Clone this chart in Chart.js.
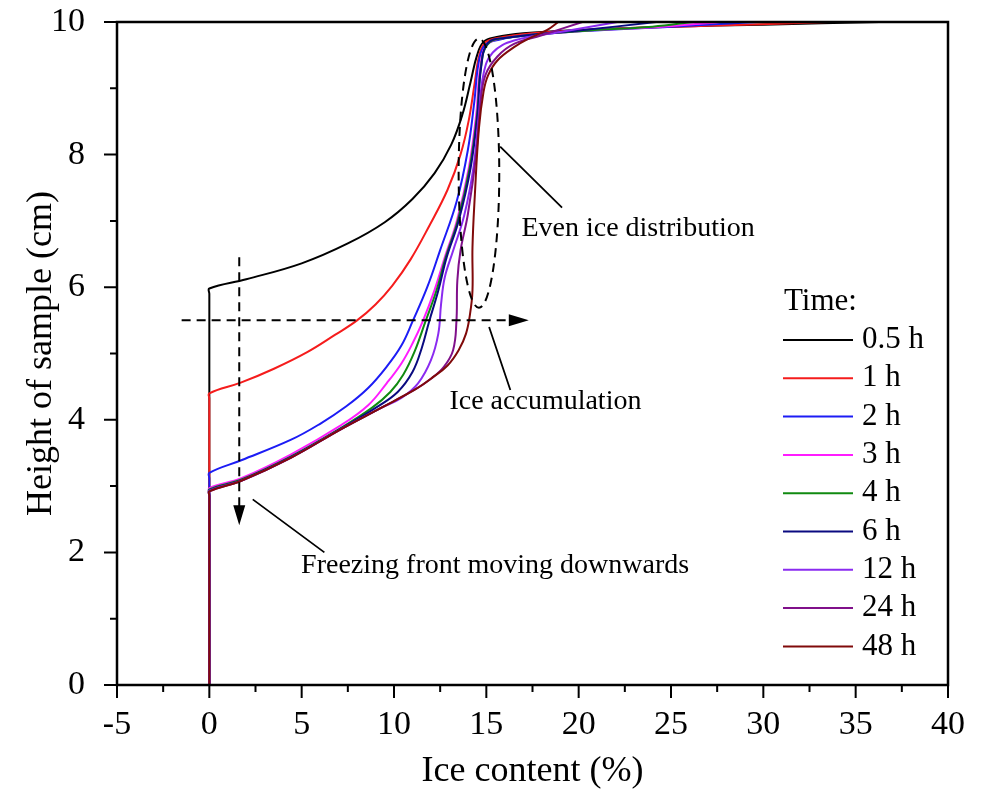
<!DOCTYPE html>
<html>

<head>
  <title>Ice content profiles</title>
  <script src="https://cdn.jsdelivr.net/npm/chart.js"></script>
  <style>
    body { margin: 0; background: #fff; }
  </style>
</head>

<body>
  <canvas id="iceChart" width="982" height="793"></canvas>
  <script>
    // [ice content (%), height of sample (cm)]
    const h05 = [[0, 0], [0, 5.9], [0, 5.98], [2.0, 6.12], [5.0, 6.36], [7.5, 6.66], [9.5, 6.98], [11.0, 7.33], [12.2, 7.72], [13.1, 8.15], [13.7, 8.6], [14.15, 9.1], [14.5, 9.5], [14.85, 9.7], [15.5, 9.77], [17, 9.83], [20, 9.88], [25, 9.93], [30, 9.96], [36.3, 10]];
    const h1 = [[0, 0], [0, 4.32], [0, 4.4], [1.7, 4.56], [3.5, 4.77], [5.3, 5.02], [6.8, 5.28], [8.0, 5.5], [9.0, 5.74], [9.9, 6.02], [10.9, 6.42], [11.9, 6.92], [12.9, 7.47], [13.6, 8.0], [14.05, 8.52], [14.38, 9.1], [14.62, 9.5], [14.98, 9.7], [16.1, 9.78], [18, 9.84], [22, 9.9], [28, 9.95], [33.5, 10]];
    const h2 = [[0, 0], [0, 3.12], [0, 3.2], [1.73, 3.39], [4.43, 3.7], [6.0, 3.94], [7.4, 4.2], [8.6, 4.48], [9.6, 4.8], [10.4, 5.12], [11.0, 5.48], [11.8, 6.0], [12.5, 6.56], [13.4, 7.3], [14.0, 8.07], [14.35, 8.8], [14.58, 9.38], [14.92, 9.65], [15.8, 9.74], [17, 9.79], [20, 9.86], [25, 9.93], [29.7, 10]];
    const h3 = [[0, 0], [0, 2.9], [0, 2.97], [1.73, 3.12], [4.43, 3.48], [7.14, 3.92], [8.6, 4.22], [9.6, 4.55], [10.4, 4.85], [11.0, 5.15], [11.55, 5.48], [12.2, 5.96], [12.75, 6.45], [13.4, 7.0], [14.05, 7.8], [14.45, 8.6], [14.66, 9.3], [15.02, 9.65], [16, 9.76], [20, 9.86], [24, 9.92], [27.7, 10]];
    const h4 = [[0, 0], [0, 2.88], [0, 2.95], [1.73, 3.1], [4.43, 3.45], [7.14, 3.88], [8.8, 4.18], [9.8, 4.42], [10.5, 4.68], [11.1, 5.02], [11.7, 5.48], [12.3, 5.95], [12.8, 6.45], [13.45, 7.0], [14.1, 7.8], [14.5, 8.6], [14.7, 9.3], [15.06, 9.66], [16, 9.76], [20, 9.86], [24, 9.93], [26.2, 10]];
    const h6 = [[0, 0], [0, 2.87], [0, 2.94], [1.73, 3.09], [4.43, 3.44], [7.14, 3.87], [9.0, 4.18], [10.2, 4.42], [11.0, 4.72], [11.5, 5.08], [11.9, 5.48], [12.4, 5.95], [12.85, 6.45], [13.5, 7.0], [14.15, 7.8], [14.52, 8.6], [14.72, 9.32], [15.08, 9.68], [16, 9.76], [20, 9.87], [24.2, 10]];
    const h12 = [[0, 0], [0, 2.86], [0, 2.93], [1.73, 3.08], [4.43, 3.43], [7.14, 3.86], [9.3, 4.18], [10.4, 4.33], [11.3, 4.55], [12.0, 4.9], [12.4, 5.3], [12.55, 5.75], [12.75, 6.15], [13.2, 6.55], [13.8, 7.08], [14.3, 7.8], [14.58, 8.55], [14.85, 9.22], [15.35, 9.54], [16.5, 9.72], [19, 9.85], [22.1, 10]];
    const h24 = [[0, 0], [0, 2.85], [0, 2.92], [1.73, 3.08], [4.43, 3.43], [7.14, 3.86], [9.3, 4.18], [11.1, 4.45], [12.0, 4.62], [12.7, 4.8], [13.2, 5.05], [13.38, 5.48], [13.43, 6.1], [13.6, 6.55], [14.0, 7.1], [14.45, 8.0], [14.68, 8.77], [14.95, 9.2], [15.6, 9.48], [16.5, 9.67], [18, 9.8], [20.2, 10]];
    const h48 = [[0, 0], [0, 2.85], [0, 2.92], [1.73, 3.08], [4.43, 3.43], [7.14, 3.86], [9.3, 4.18], [11.1, 4.45], [12.0, 4.62], [12.9, 4.82], [13.5, 5.05], [13.9, 5.3], [14.12, 5.6], [14.25, 5.95], [14.25, 6.6], [14.38, 7.4], [14.6, 8.4], [14.85, 8.95], [15.1, 9.2], [15.6, 9.42], [16.5, 9.62], [17.3, 9.75], [18.3, 9.88], [18.9, 10]];

    const labels = ['0.5 h', '1 h', '2 h', '3 h', '4 h', '6 h', '12 h', '24 h', '48 h'];
    const colors = ['#000000', '#f51c1c', '#1c1cf5', '#ff1cff', '#108a10', '#0a0a80', '#8a2bf0', '#80108a', '#800a0a'];
    const series = [h05, h1, h2, h3, h4, h6, h12, h24, h48];

    const FONT = '"Liberation Serif", "Times New Roman", serif';
    Chart.defaults.font.family = FONT;
    Chart.defaults.color = '#000';

    // annotations, in data units
    const notes = [
      { text: 'Even ice distribution', x: 16.9, y: 6.89, align: 'left' },
      { text: 'Ice accumulation', x: 18.2, y: 4.27, align: 'center' },
      { text: 'Freezing front moving downwards', x: 4.97, y: 1.8, align: 'left' }
    ];
    const leaders = [[15.75, 8.12, 19.1, 7.2], [15.15, 5.4, 16.3, 4.45], [2.35, 2.8, 6.23, 2.0]];

    const overlay = {
      id: 'overlay',
      afterDraw(chart) {
        const { ctx, chartArea: a, scales: { x, y } } = chart;
        const px = v => x.getPixelForValue(v);
        const py = v => y.getPixelForValue(v);
        ctx.save();
        ctx.strokeStyle = '#000';
        ctx.fillStyle = '#000';

        // frame
        ctx.lineWidth = 2.5;
        ctx.strokeRect(a.left, a.top, a.right - a.left, a.bottom - a.top);

        // ticks, outward, major + minor
        ctx.lineWidth = 2;
        ctx.beginPath();
        x.ticks.forEach(t => {
          const len = Math.abs(t.value % 5) < 1e-6 ? 13 : 7;
          const p = px(t.value);
          ctx.moveTo(p, a.bottom);
          ctx.lineTo(p, a.bottom + len);
        });
        y.ticks.forEach(t => {
          const len = Math.abs(t.value % 2) < 1e-6 ? 13 : 7;
          const p = py(t.value);
          ctx.moveTo(a.left, p);
          ctx.lineTo(a.left - len, p);
        });
        ctx.stroke();

        // dashed arrows
        ctx.lineWidth = 2;
        ctx.setLineDash([9, 6]);
        ctx.beginPath();
        ctx.moveTo(px(-1.5), py(5.5));
        ctx.lineTo(px(17.3) - 18, py(5.5));
        ctx.moveTo(px(1.62), py(6.45));
        ctx.lineTo(px(1.62), py(2.41) - 18);
        ctx.stroke();

        // dashed ellipse round the even zone
        const cx = px(14.6), cy = py(7.72);
        const rx = px(15.7) - px(14.6), ry = py(7.72) - py(9.75);
        ctx.beginPath();
        ctx.ellipse(cx, cy, rx, ry, 0, 0, Math.PI * 2);
        ctx.stroke();
        ctx.setLineDash([]);

        // arrow heads
        ctx.beginPath();
        ctx.moveTo(px(17.3), py(5.5));
        ctx.lineTo(px(17.3) - 20, py(5.5) - 6);
        ctx.lineTo(px(17.3) - 20, py(5.5) + 6);
        ctx.closePath();
        ctx.moveTo(px(1.62), py(2.41));
        ctx.lineTo(px(1.62) - 6, py(2.41) - 20);
        ctx.lineTo(px(1.62) + 6, py(2.41) - 20);
        ctx.closePath();
        ctx.fill();

        // leader lines
        ctx.lineWidth = 1.8;
        ctx.beginPath();
        leaders.forEach(l => {
          ctx.moveTo(px(l[0]), py(l[1]));
          ctx.lineTo(px(l[2]), py(l[3]));
        });
        ctx.stroke();

        // notes
        ctx.font = '28px ' + FONT;
        ctx.textBaseline = 'middle';
        notes.forEach(n => {
          ctx.textAlign = n.align;
          ctx.fillText(n.text, px(n.x), py(n.y));
        });

        // legend
        ctx.font = '31px ' + FONT;
        ctx.textAlign = 'left';
        ctx.fillText('Time:', 784, 302);
        ctx.lineWidth = 2;
        chart.data.datasets.forEach((ds, i) => {
          const ly = 340 + i * 38.3;
          ctx.strokeStyle = ds.borderColor;
          ctx.beginPath();
          ctx.moveTo(783, ly);
          ctx.lineTo(853, ly);
          ctx.stroke();
          ctx.fillText(ds.label, 862, ly);
        });
        ctx.restore();
      }
    };

    const ctx = document.getElementById('iceChart').getContext('2d');
    const chart = new Chart(ctx, {
      type: 'scatter',
      data: {
        datasets: series.map((s, i) => ({
          label: labels[i],
          data: s.map(p => ({ x: p[0], y: p[1] })),
          showLine: true,
          borderColor: colors[i],
          backgroundColor: colors[i],
          borderWidth: 2,
          pointRadius: 0,
          tension: 0.4,
          order: series.length - i // later series drawn on top
        }))
      },
      options: {
        responsive: false,
        animation: false,
        layout: { padding: { top: 22, right: 34, left: 0, bottom: 0 } },
        plugins: { legend: { display: false }, tooltip: { enabled: false } },
        scales: {
          x: {
            type: 'linear',
            min: -5,
            max: 40,
            grid: { display: false },
            border: { display: false },
            ticks: {
              stepSize: 2.5,
              autoSkip: false,
              maxRotation: 0,
              padding: 12,
              font: { size: 34 },
              callback: v => (Math.abs(v % 5) < 1e-6 ? v : '')
            },
            title: { display: true, text: 'Ice content (%)', font: { size: 36 }, padding: { top: 0, bottom: 0 } },
            afterFit: s => { s.height = 108; s.paddingLeft = 0; s.paddingRight = 0; }
          },
          y: {
            type: 'linear',
            min: 0,
            max: 10,
            grid: { display: false },
            border: { display: false },
            ticks: {
              stepSize: 1,
              autoSkip: false,
              padding: 24,
              font: { size: 34 },
              callback: v => (v % 2 === 0 ? v : '')
            },
            title: { display: true, text: 'Height of sample (cm)', font: { size: 36 }, padding: { top: 20, bottom: 0 } },
            afterFit: s => { s.width = 117; s.paddingTop = 0; s.paddingBottom = 0; }
          }
        }
      },
      plugins: [overlay]
    });
  </script>
</body>

</html>
